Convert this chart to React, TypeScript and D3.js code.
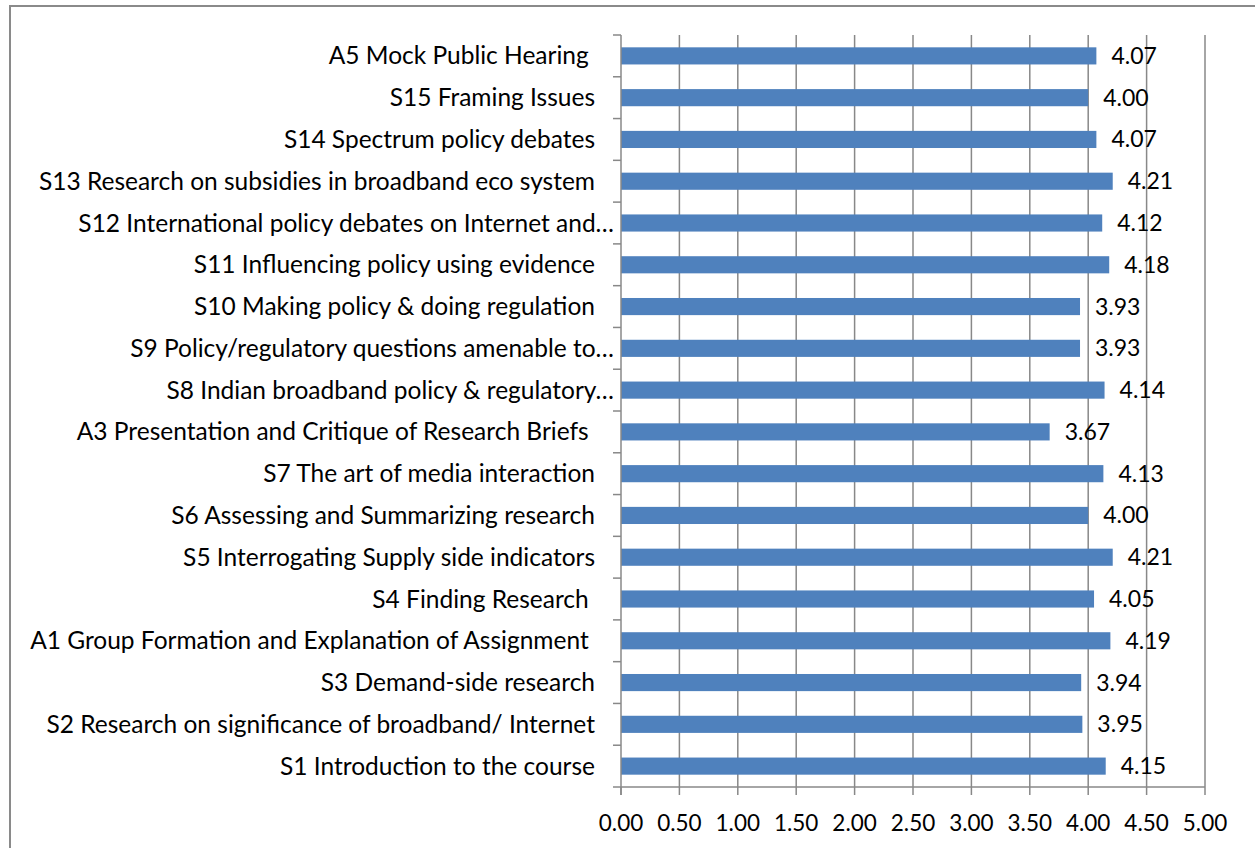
import React from 'react';
import * as d3 from 'd3';

// sessions, top to bottom as shown
const sessions = [
  'A5 Mock Public Hearing ',
  'S15 Framing Issues',
  'S14 Spectrum policy debates',
  'S13 Research on subsidies in broadband eco system',
  'S12 International policy debates on Internet and…',
  'S11 Influencing policy using evidence',
  'S10 Making policy & doing regulation',
  'S9 Policy/regulatory questions amenable to…',
  'S8 Indian broadband policy & regulatory…',
  'A3 Presentation and Critique of Research Briefs ',
  'S7 The art of media interaction',
  'S6 Assessing and Summarizing research',
  'S5 Interrogating Supply side indicators',
  'S4 Finding Research ',
  'A1 Group Formation and Explanation of Assignment ',
  'S3 Demand-side research',
  'S2 Research on significance of broadband/ Internet',
  'S1 Introduction to the course',
];

const ratings = [
  4.07, 4.0, 4.07, 4.21, 4.12, 4.18, 3.93, 3.93, 4.14,
  3.67, 4.13, 4.0, 4.21, 4.05, 4.19, 3.94, 3.95, 4.15,
];

const xTicks = [0, 0.5, 1, 1.5, 2, 2.5, 3, 3.5, 4, 4.5, 5];

const W = 1255;
const H = 848;
const left = 621;
const right = 1205;
const top = 35;
const bottom = 787;

const FONT = 'Lato, Carlito, Calibri, sans-serif';
const GRID = '#888888';

const App: React.FC = () => {
  const x = d3.scaleLinear().domain([0, 5]).range([left, right]);
  const y = d3.scaleBand<string>().domain(sessions).range([top, bottom]).paddingInner(0.59).paddingOuter(0.295);
  const band = d3.scaleBand<string>().domain(sessions).range([top, bottom]);

  return (
    <svg width={W} height={H} style={{ position: 'absolute', left: 0, top: 0, background: '#fff' }}>
      {/* outer frame */}
      <rect x={10} y={6} width={W + 20} height={H + 20} fill="none" stroke="#8a8a8a" strokeWidth={2} />

      {/* vertical grid */}
      {xTicks.slice(1).map(t => (
        <line key={t} x1={x(t)} x2={x(t)} y1={top} y2={bottom} stroke={GRID} strokeWidth={1.5} />
      ))}

      {/* bars */}
      {sessions.map((s, i) => (
        <rect key={s} x={x(0)} y={y(s)} width={x(ratings[i]) - x(0)} height={y.bandwidth()} fill="#4F81BD" />
      ))}

      {/* value labels */}
      {sessions.map((s, i) => (
        <text key={s} x={x(ratings[i]) + 15} y={(band(s) as number) + band.bandwidth() / 2} dy="0.35em"
          fontFamily={FONT} fontSize={23} fill="#000">
          {ratings[i].toFixed(2)}
        </text>
      ))}

      {/* category axis */}
      <line x1={left} x2={left} y1={top} y2={bottom + 8} stroke={GRID} strokeWidth={1.5} />
      {band.domain().map(s => (
        <line key={s} x1={left - 8} x2={left} y1={band(s)} y2={band(s)} stroke={GRID} strokeWidth={1.5} />
      ))}
      <line x1={left - 8} x2={left} y1={bottom} y2={bottom} stroke={GRID} strokeWidth={1.5} />
      {sessions.map(s => (
        <text key={s} x={s.endsWith('…') ? 614 : 595} y={(band(s) as number) + band.bandwidth() / 2} dy="0.35em"
          textAnchor="end" fontFamily={FONT} fontSize={24.5} fill="#000" style={{ whiteSpace: 'pre' }}>
          {s}
        </text>
      ))}

      {/* value axis */}
      <line x1={left} x2={right} y1={bottom} y2={bottom} stroke={GRID} strokeWidth={1.5} />
      {xTicks.map(t => (
        <g key={t}>
          <line x1={x(t)} x2={x(t)} y1={bottom} y2={bottom + 8} stroke={GRID} strokeWidth={1.5} />
          <text x={x(t)} y={bottom + 36} dy="0.35em" textAnchor="middle" fontFamily={FONT} fontSize={22.5} fill="#000">
            {d3.format('.2f')(t)}
          </text>
        </g>
      ))}
    </svg>
  );
};

export default App;
